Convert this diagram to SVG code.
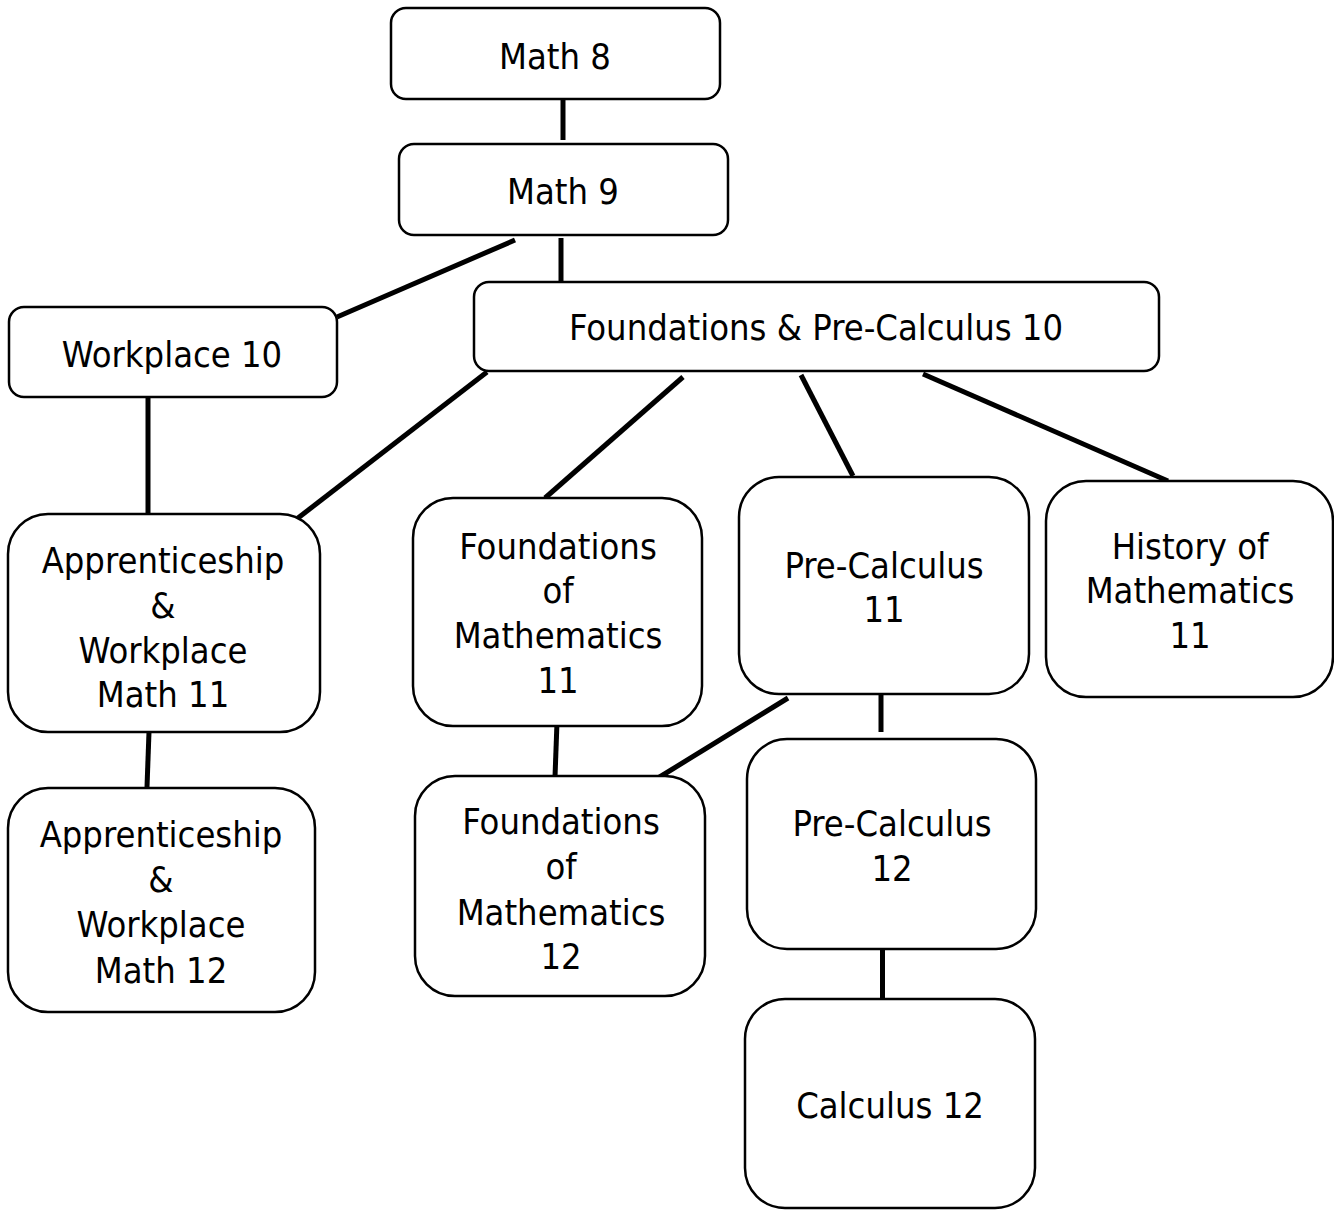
<svg xmlns="http://www.w3.org/2000/svg" width="1334" height="1210" viewBox="0 0 1334 1210">
<style>
.box{fill:#fff;stroke:#000;stroke-width:2.5}
.t{font-family:"DejaVu Sans Condensed","DejaVu Sans",sans-serif;font-size:36px;fill:#000;text-anchor:middle}
.c line{stroke:#000;stroke-width:5}
</style>
<rect width="1334" height="1210" fill="#fff"/>
<g class="c" id="connectors">
<line x1="563" y1="99" x2="563" y2="140"/>
<line x1="561" y1="238" x2="561" y2="282"/>
<line x1="337" y1="317" x2="515" y2="240"/>
<line x1="148" y1="397" x2="148" y2="514"/>
<line x1="487" y1="372" x2="298" y2="518"/>
<line x1="683" y1="377" x2="545" y2="498"/>
<line x1="801" y1="375" x2="853" y2="476"/>
<line x1="923" y1="374" x2="1168" y2="481"/>
<line x1="149" y1="732" x2="147" y2="787"/>
<line x1="557" y1="722" x2="555" y2="777"/>
<line x1="788" y1="698" x2="658" y2="778"/>
<line x1="881" y1="690" x2="881" y2="732"/>
<line x1="882.5" y1="949" x2="882.5" y2="1000"/>
</g>
<g id="math8"><rect class="box" x="391" y="8" width="329" height="91" rx="15"/><text class="t" x="555" y="69">Math 8</text></g>
<g id="math9"><rect class="box" x="399" y="144" width="329" height="91" rx="15"/><text class="t" x="563" y="204">Math 9</text></g>
<g id="workplace10"><rect class="box" x="9" y="307" width="328" height="90" rx="15"/><text class="t" x="172" y="367">Workplace 10</text></g>
<g id="fpc10"><rect class="box" x="474" y="282" width="685" height="89" rx="15"/><text class="t" x="816" y="340">Foundations &amp; Pre-Calculus 10</text></g>
<g id="aw11"><rect class="box" x="8" y="514" width="312" height="218" rx="40"/>
<text class="t" x="163"><tspan x="163" y="573">Apprenticeship</tspan><tspan x="163" y="618">&amp;</tspan><tspan x="163" y="663">Workplace</tspan><tspan x="163" y="707">Math 11</tspan></text></g>
<g id="aw12"><rect class="box" x="8" y="788" width="307" height="224" rx="40"/>
<text class="t" x="161"><tspan x="161" y="847">Apprenticeship</tspan><tspan x="161" y="892">&amp;</tspan><tspan x="161" y="937">Workplace</tspan><tspan x="161" y="983">Math 12</tspan></text></g>
<g id="fom11"><rect class="box" x="413" y="498" width="289" height="228" rx="40"/>
<text class="t" x="558"><tspan x="558" y="559">Foundations</tspan><tspan x="558" y="603">of</tspan><tspan x="558" y="648">Mathematics</tspan><tspan x="558" y="693">11</tspan></text></g>
<g id="fom12"><rect class="box" x="415" y="776" width="290" height="220" rx="40"/>
<text class="t" x="561"><tspan x="561" y="834">Foundations</tspan><tspan x="561" y="879">of</tspan><tspan x="561" y="925">Mathematics</tspan><tspan x="561" y="969">12</tspan></text></g>
<g id="pc11"><rect class="box" x="739" y="477" width="290" height="217" rx="40"/>
<text class="t" x="884"><tspan x="884" y="578">Pre-Calculus</tspan><tspan x="884" y="622">11</tspan></text></g>
<g id="hom11"><rect class="box" x="1046" y="481" width="287" height="216" rx="40"/>
<text class="t" x="1190"><tspan x="1190" y="559">History of</tspan><tspan x="1190" y="603">Mathematics</tspan><tspan x="1190" y="648">11</tspan></text></g>
<g id="pc12"><rect class="box" x="747" y="739" width="289" height="210" rx="40"/>
<text class="t" x="892"><tspan x="892" y="836">Pre-Calculus</tspan><tspan x="892" y="881">12</tspan></text></g>
<g id="calc12"><rect class="box" x="745" y="999" width="290" height="209" rx="40"/><text class="t" x="890" y="1118">Calculus 12</text></g>
</svg>
